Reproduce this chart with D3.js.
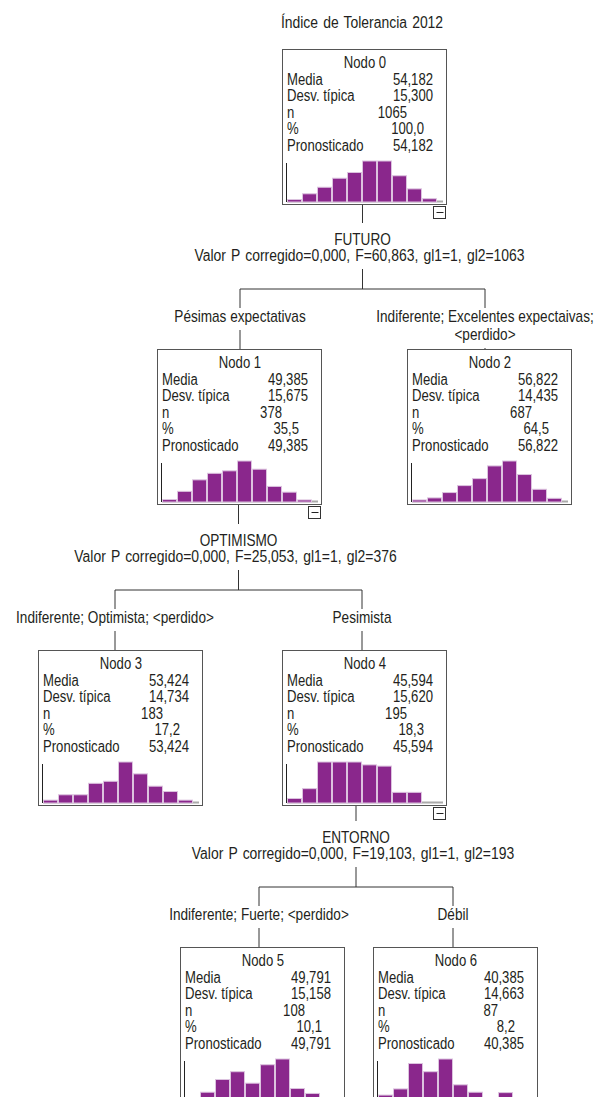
<!DOCTYPE html>
<html>
<head>
<meta charset="utf-8">
<script src="https://cdn.jsdelivr.net/npm/d3@7"></script>
<style>
body { margin: 0; background: #fff; }
svg { display: block; background: #fff; }
text { font-family: "Liberation Sans", Arial, sans-serif; font-size: 16px; fill: #231f20; }
text.estad { word-spacing: 1.5px; }
</style>
</head>
<body>
<svg width="595" height="1097"></svg>
<script>
// I. Datos
const titulo = "Índice de Tolerancia 2012";

const nodos = ["Nodo 0", "Nodo 1", "Nodo 2", "Nodo 3", "Nodo 4", "Nodo 5", "Nodo 6"];
const padres = [null, 0, 0, 1, 1, 4, 4];
const media = [54.182, 49.385, 56.822, 53.424, 45.594, 49.791, 40.385];
const desv = [15.300, 15.675, 14.435, 14.734, 15.620, 15.158, 14.663];
const nCasos = [1065, 378, 687, 183, 195, 108, 87];
const porcentaje = [100.0, 35.5, 64.5, 17.2, 18.3, 10.1, 8.2];
const pronosticado = [54.182, 49.385, 56.822, 53.424, 45.594, 49.791, 40.385];

// etiqueta de la rama que llega a cada nodo
const ramas = [
    null,
    ["Pésimas expectativas"],
    ["Indiferente; Excelentes expectaivas;", "<perdido>"],
    ["Indiferente; Optimista; <perdido>"],
    ["Pesimista"],
    ["Indiferente; Fuerte; <perdido>"],
    ["Débil"]
];

// variable de corte de cada nodo (null = nodo terminal)
const varCorte = ["FUTURO", "OPTIMISMO", null, null, "ENTORNO", null, null];
const valorP = [0.000, 0.000, null, null, 0.000, null, null];
const estF = [60.863, 25.053, null, null, 19.103, null, null];
const gl1 = [1, 1, null, null, 1, null, null];
const gl2 = [1063, 376, null, null, 193, null, null];

// histogramas (altura relativa de cada barra, 0-100)
const limitesBin = [0, 10, 20, 30, 40, 50, 60, 70, 80, 90, 100, 104];
const histo = [
    [6, 20, 36, 58, 72, 100, 100, 64, 32, 8, 0],
    [6, 26, 54, 70, 76, 100, 80, 38, 24, 5, 0],
    [5, 10, 23, 40, 57, 88, 100, 67, 31, 9, 0],
    [7, 20, 20, 48, 53, 100, 71, 41, 28, 7, 0],
    [11, 35, 100, 100, 100, 93, 90, 26, 26, 0, 0],
    [5, 19, 50, 69, 41, 86, 100, 28, 16, 0, 0],
    [12, 27, 89, 69, 100, 37, 19, 5, 18, 0, 0]
];

// II. Mise en page
const caja = { w: 164, h: 155 };
const topNivel = [49, 349, 650, 947];
const izquierda = [282, 157, 407, 38, 282, 180, 373];
const conector = [364, 240, 485, 115, 362, 259, 453];
const ESC = 0.82; // letra estrecha

const svg = d3.select("svg");
const capa = svg.append("g");

const loc = d3.formatLocale({ decimal: ",", thousands: ".", grouping: [3], currency: ["", "€"] });
const f3 = loc.format(".3f");
const f1 = loc.format(".1f");
const fd = loc.format("d");

// texto comprimido horizontalmente
function texto(sel, x, y, str, anchor, esc) {
    return sel.append("text")
        .attr("transform", `translate(${x},${y}) scale(${esc || ESC},1)`)
        .attr("text-anchor", anchor || "start")
        .text(str);
}

function nivel(i) {
    let d = 0;
    while (padres[i] !== null) { i = padres[i]; d++; }
    return d;
}

const datos = nodos.map((nombre, i) => ({
    i: i, nombre: nombre,
    x: izquierda[i], y: topNivel[nivel(i)],
    hijos: padres.map((p, j) => p === i ? j : -1).filter(j => j >= 0)
}));

// Título
texto(capa, 362, 28, titulo, "middle", 0.87).attr("class", "estad");

// a) Conexiones del árbol
datos.filter(d => d.hijos.length > 0).forEach(function (d) {
    const i = d.i;
    const abajo = d.y + caja.h;
    const xs = d.hijos.map(j => conector[j]);
    const xm = (xs[0] + xs[1]) / 2;
    const H = topNivel[nivel(i) + 1] - 60;

    capa.append("line").attr("class", "rama")
        .attr("x1", xm).attr("x2", xm).attr("y1", abajo).attr("y2", H - 66);
    texto(capa, xm, H - 44, varCorte[i], "middle", 0.85);
    texto(capa, xm - 3, H - 28, "Valor P corregido=" + f3(valorP[i]) + ", F=" + f3(estF[i]) +
              ", gl1=" + fd(gl1[i]) + ", gl2=" + fd(gl2[i]), "middle", 0.87)
        .attr("class", "estad");
    capa.append("line").attr("class", "rama")
        .attr("x1", xm).attr("x2", xm).attr("y1", H - 20).attr("y2", H);
    capa.append("line").attr("class", "rama")
        .attr("x1", xs[0]).attr("x2", xs[1]).attr("y1", H).attr("y2", H);

    d.hijos.forEach(function (j) {
        const cx = conector[j];
        capa.append("line").attr("class", "rama")
            .attr("x1", cx).attr("x2", cx).attr("y1", H).attr("y2", H + 19);
        ramas[j].forEach(function (t, k) {
            texto(capa, cx, H + 33 + k * 18, t, "middle", 0.85);
        });
        const finEtiqueta = H + 33 + (ramas[j].length - 1) * 18 + 8;
        capa.append("line").attr("class", "rama")
            .attr("x1", cx).attr("x2", cx)
            .attr("y1", finEtiqueta).attr("y2", topNivel[nivel(j)]);
    });
});

capa.selectAll("line.rama").attr("stroke", "#333").attr("stroke-width", 1);

// b) Cajas de los nodos
const g = capa.selectAll("g.nodo").data(datos).enter()
    .append("g").attr("class", "nodo")
    .attr("transform", d => `translate(${d.x},${d.y})`);

g.append("rect")
    .attr("x", 0.5).attr("y", 0.5)
    .attr("width", caja.w).attr("height", caja.h)
    .attr("fill", "#fff").attr("stroke", "#555").attr("stroke-width", 1);

texto(g, caja.w / 2 + 1, 19, d => d.nombre, "middle");

const filas = ["Media", "Desv. típica", "n", "%", "Pronosticado"];
const paso = 16.6;
filas.forEach(function (etq, k) {
    texto(g, 5, 35.6 + k * paso, etq);
});
texto(g, 151, 35.6, d => f3(media[d.i]), "end");
texto(g, 151, 35.6 + paso, d => f3(desv[d.i]), "end");
texto(g, 125, 35.6 + 2 * paso, d => fd(nCasos[d.i]), "end");
texto(g, 142, 35.6 + 3 * paso, d => f1(porcentaje[d.i]), "end");
texto(g, 151, 35.6 + 4 * paso, d => f3(pronosticado[d.i]), "end");

// c) Histogramas
const base = 153;
const x = d3.scaleLinear().domain([0, 104]).range([5, 161]);
const y = d3.scaleLinear().domain([0, 100]).range([base, base - 41]);

g.append("line")
    .attr("x1", 5).attr("x2", 161).attr("y1", base - 0.5).attr("y2", base - 0.5)
    .attr("stroke", "#aaa").attr("stroke-width", 2);

g.each(function (d) {
    const bins = histo[d.i].map((v, k) => ({ v: v, x0: limitesBin[k], x1: limitesBin[k + 1] }))
        .filter(b => b.v > 0);
    d3.select(this).selectAll("rect.barra").data(bins).enter()
        .append("rect").attr("class", "barra")
        .attr("x", b => x(b.x0) + 0.5)
        .attr("width", b => x(b.x1) - x(b.x0) - 1)
        .attr("y", b => y(b.v))
        .attr("height", b => base - y(b.v))
        .attr("fill", "#8a278c")
        .attr("stroke", "#dcc3df").attr("stroke-width", 1);
});

g.append("line")
    .attr("x1", 4.5).attr("x2", 4.5).attr("y1", 114).attr("y2", base)
    .attr("stroke", "#222").attr("stroke-width", 1);

// d) Botón de contraer
const plegables = g.filter(d => d.hijos.length > 0);
plegables.append("rect")
    .attr("x", caja.w - 12.5).attr("y", caja.h + 2.5)
    .attr("width", 12).attr("height", 12)
    .attr("fill", "#fff").attr("stroke", "#333");
plegables.append("line")
    .attr("x1", caja.w - 9.5).attr("x2", caja.w - 2.5)
    .attr("y1", caja.h + 8.5).attr("y2", caja.h + 8.5)
    .attr("stroke", "#222");
</script>
</body>
</html>
